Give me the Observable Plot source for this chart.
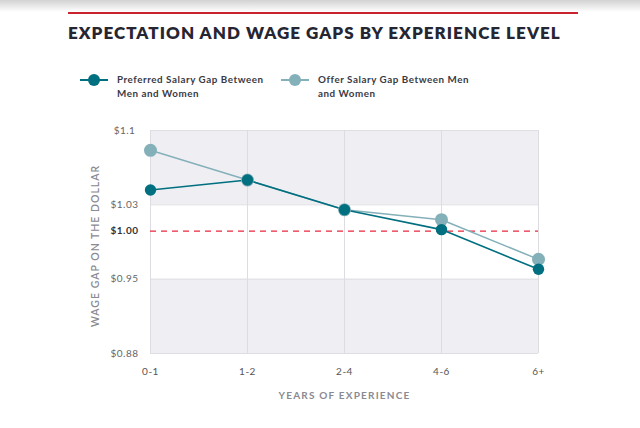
<!DOCTYPE html>
<html><head><meta charset="utf-8">
<script src="https://cdn.jsdelivr.net/npm/d3@7"></script>
<script src="https://cdn.jsdelivr.net/npm/@observablehq/plot@0.6"></script>
<style>
body{margin:0;background:#fff;width:640px;height:428px;overflow:hidden;position:relative;font-family:Lato,sans-serif;}
#shade{position:absolute;left:0;top:0;width:640px;height:12px;background:linear-gradient(#d2d2d2,#ffffff);}
#rule{position:absolute;left:68px;top:12px;width:510px;height:2px;background:#c8232f;}
#title{position:absolute;left:68px;top:22px;font-weight:800;font-size:17px;letter-spacing:1.05px;color:#262633;white-space:nowrap;}
.leg{position:absolute;top:72px;font-weight:700;font-size:9.8px;color:#3a3a44;line-height:14px;letter-spacing:0.55px;}
.leg svg{position:absolute;left:-38px;top:1px;}
#chart{position:absolute;left:0;top:110px;}
</style></head>
<body>
<div id="shade"></div>
<div id="rule"></div>
<div id="title">EXPECTATION AND WAGE GAPS BY EXPERIENCE LEVEL</div>
<div class="leg" style="left:117px"><svg width="30" height="14"><line x1="1" x2="29" y1="7" y2="7" stroke="#006f80" stroke-width="2"/><circle cx="15" cy="7" r="6" fill="#006f80"/></svg>Preferred Salary Gap Between<br>Men and Women</div>
<div class="leg" style="left:318px"><svg width="30" height="14"><line x1="1" x2="29" y1="7" y2="7" stroke="#84b0b9" stroke-width="2"/><circle cx="15" cy="7" r="6" fill="#84b0b9"/></svg>Offer Salary Gap Between Men<br>and Women</div>
<div id="chart"></div>
<script>
const categories = ["0-1", "1-2", "2-4", "4-6", "6+"];
const preferred = [1.04, 1.05, 1.02, 1.00, 0.96];
const offer = [1.08, 1.05, 1.02, 1.01, 0.97];
const yTicks = [0.875, 0.95, 1.025, 1.1];
const yTickLabels = ["$0.88", "$0.95", "$1.03", "$1.1"];
const parity = 1.00;
const parityLabel = "$1.00";
const bands = [[1.025, 1.1], [0.875, 0.95]];
const yTitle = "WAGE GAP ON THE DOLLAR";
const xTitle = "YEARS OF EXPERIENCE";

const prefData = categories.map((c, i) => ({cat: c, v: preferred[i]}));
const offerData = categories.map((c, i) => ({cat: c, v: offer[i]}));
const bandData = bands.map(([a, b]) => ({y1: a, y2: b}));

const chart = Plot.plot({
  width: 640,
  height: 300,
  marginLeft: 150,
  marginRight: 102,
  marginTop: 20,
  marginBottom: 57,
  style: {fontFamily: "Lato, sans-serif", background: "transparent"},
  x: {type: "point", domain: categories, padding: 0},
  y: {domain: [0.875, 1.1]},
  marks: [
    Plot.rect(bandData, {y1: "y1", y2: "y2", fill: "#efeff3"}),
    Plot.ruleY(yTicks, {stroke: "#dedee3", strokeWidth: 1}),
    Plot.ruleX(categories, {stroke: "#dcdce1", strokeWidth: 1}),
    Plot.ruleY([parity], {stroke: "#e8293f", strokeWidth: 1.3, strokeDasharray: "6,5", dy: 1.5}),
    Plot.axisY(yTicks, {tickSize: 0, tickPadding: 26, textAnchor: "middle", fontSize: 10, fill: "#666",
      tickFormat: (d) => yTickLabels[yTicks.indexOf(d)], label: null}),
    Plot.text([parity], {y: (d) => d, frameAnchor: "left", dx: -26, dy: 1.5, text: () => parityLabel, textAnchor: "middle", fontSize: 10, fontWeight: "bold", fill: "#333"}),
    Plot.text([yTitle], {frameAnchor: "left", dx: -55, dy: 4, rotate: -90, text: (d) => d, fontSize: 10.5, fill: "#8a8a92", fontWeight: 600, textAnchor: "middle"}),
    Plot.axisX({tickSize: 0, tickPadding: 14, fontSize: 10, fill: "#555", label: null}),
    Plot.text([xTitle], {frameAnchor: "bottom", dy: 45, text: (d) => d, fontSize: 10, fill: "#8a8a92", fontWeight: 700, textAnchor: "middle"}),
    Plot.line(offerData, {x: "cat", y: "v", stroke: "#84b0b9", strokeWidth: 1.5}),
    Plot.line(prefData, {x: "cat", y: "v", stroke: "#006f80", strokeWidth: 1.6}),
    Plot.dot(offerData, {x: "cat", y: "v", r: 6.5, fill: "#84b0b9"}),
    Plot.dot(prefData, {x: "cat", y: "v", r: 5.7, fill: "#006f80"})
  ]
});
d3.select(chart).selectAll("text").each(function () {
  const t = this.textContent;
  let ls = "0.5px";
  if (t === yTitle) ls = "1.0px";
  else if (t === xTitle) ls = "1.2px";
  this.setAttribute("letter-spacing", ls);
});
document.getElementById("chart").appendChild(chart);
</script>
</body></html>
